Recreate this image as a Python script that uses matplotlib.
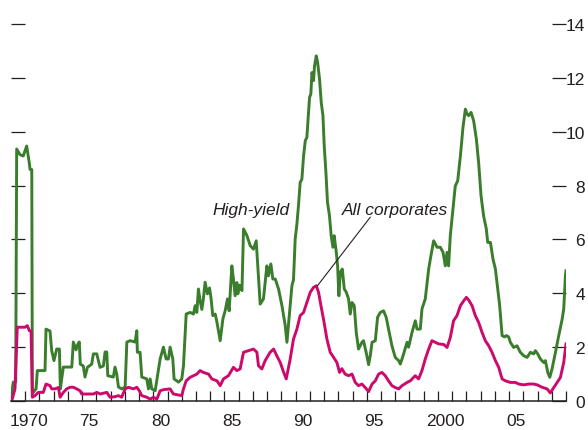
import matplotlib.pyplot as plt

plt.rcParams['font.family'] = ['Liberation Sans Narrow', 'Liberation Sans', 'DejaVu Sans']

# high-yield default rate (percent)
hy_years = [1970.00, 1970.16, 1970.33, 1970.40, 1970.63, 1970.86, 1971.10, 1971.27, 1971.34, 1971.46,
            1971.50, 1971.57, 1971.76, 1971.85, 1972.39, 1972.46, 1972.74, 1972.86, 1973.02, 1973.21,
            1973.40, 1973.47, 1973.56, 1973.68, 1974.27, 1974.38, 1974.57, 1974.69, 1974.80, 1974.87,
            1975.08, 1975.20, 1975.37, 1975.67, 1975.79, 1976.03, 1976.14, 1976.26, 1976.49, 1976.61,
            1976.73, 1976.80, 1977.19, 1977.31, 1977.43, 1977.55, 1977.78, 1978.02, 1978.14, 1978.37,
            1978.72, 1978.84, 1978.88, 1979.07, 1979.19, 1979.54, 1979.66, 1979.78, 1979.89, 1980.13,
            1980.48, 1980.71, 1980.90, 1981.06, 1981.18, 1981.37, 1981.46, 1981.77, 1982.00, 1982.12,
            1982.31, 1982.59, 1982.82, 1982.94, 1983.06, 1983.17, 1983.29, 1983.41, 1983.52, 1983.64,
            1983.80, 1983.95, 1984.06, 1984.18, 1984.35, 1984.47, 1984.70, 1984.89, 1985.05, 1985.21,
            1985.33, 1985.52, 1985.63, 1985.75, 1985.87, 1985.94, 1986.06, 1986.23, 1986.34, 1986.58,
            1986.81, 1987.04, 1987.23, 1987.32, 1987.51, 1987.74, 1987.98, 1988.09, 1988.26, 1988.40,
            1988.57, 1988.80, 1989.04, 1989.27, 1989.39, 1989.62, 1989.74, 1989.85, 1989.97, 1990.09,
            1990.20, 1990.32, 1990.44, 1990.56, 1990.68, 1990.79, 1990.98, 1991.07, 1991.15, 1991.26,
            1991.33, 1991.45, 1991.54, 1991.68, 1991.80, 1991.92, 1992.01, 1992.13, 1992.24, 1992.38,
            1992.50, 1992.62, 1992.71, 1992.86, 1992.95, 1993.04, 1993.14, 1993.28, 1993.42, 1993.56,
            1993.72, 1993.84, 1993.96, 1994.12, 1994.26, 1994.42, 1994.66, 1994.77, 1994.96, 1995.13,
            1995.25, 1995.37, 1995.60, 1995.76, 1995.95, 1996.18, 1996.37, 1996.53, 1996.77, 1997.00,
            1997.24, 1997.36, 1997.59, 1997.83, 1997.94, 1998.18, 1998.41, 1998.53, 1998.76, 1998.88,
            1999.11, 1999.35, 1999.51, 1999.70, 1999.94, 2000.17, 2000.36, 2000.52, 2000.64, 2000.75,
            2000.87, 2001.06, 2001.22, 2001.39, 2001.58, 2001.76, 2001.93, 2002.05, 2002.16, 2002.33,
            2002.51, 2002.70, 2002.86, 2003.03, 2003.21, 2003.40, 2003.50, 2003.69, 2003.87, 2004.04,
            2004.20, 2004.34, 2004.51, 2004.67, 2004.81, 2004.97, 2005.09, 2005.32, 2005.56, 2005.79,
            2006.03, 2006.27, 2006.50, 2006.73, 2006.85, 2007.01, 2007.20, 2007.43, 2007.55, 2007.72,
            2007.86, 2008.02, 2008.26, 2008.49, 2008.73, 2008.84, 2008.96, 2009.00]
hy_vals = [0.10, 0.70, 0.70, 9.36, 9.15, 9.10, 9.47, 8.90, 8.60, 8.60,
           0.33, 0.32, 0.45, 1.13, 1.13, 2.67, 2.60, 1.87, 1.50, 1.93,
           1.93, 0.45, 0.82, 1.26, 1.26, 2.19, 1.90, 2.10, 2.19, 1.37,
           1.30, 0.89, 1.25, 1.37, 1.75, 1.75, 1.50, 1.25, 1.30, 1.82,
           1.82, 0.94, 0.89, 1.26, 1.00, 0.52, 0.45, 0.52, 2.19, 2.24,
           2.19, 2.61, 1.81, 1.81, 0.89, 0.82, 0.45, 0.82, 0.45, 0.38,
           1.56, 2.00, 1.56, 1.56, 2.00, 1.56, 0.82, 0.70, 0.82, 1.31,
           3.23, 3.29, 3.23, 3.54, 3.29, 4.16, 3.73, 3.40, 3.80, 4.41,
           3.98, 4.20, 3.80, 3.17, 3.23, 2.93, 2.24, 3.05, 3.35, 3.79,
           3.35, 5.02, 4.53, 3.91, 4.40, 3.98, 4.30, 4.10, 6.39, 6.14,
           5.77, 5.64, 5.95, 5.21, 3.60, 3.79, 5.02, 4.65, 5.09, 4.53,
           4.53, 4.16, 3.54, 2.80, 2.18, 3.54, 4.28, 4.50, 6.02, 6.57,
           7.25, 8.12, 8.24, 9.11, 9.67, 9.79, 11.28, 11.40, 12.20, 11.90,
           12.45, 12.82, 12.60, 11.96, 11.09, 10.60, 9.48, 8.49, 7.38, 6.88,
           6.14, 5.71, 6.14, 5.52, 5.02, 3.91, 4.78, 4.90, 4.16, 4.04,
           3.79, 3.23, 3.66, 3.54, 2.55, 1.93, 2.18, 2.24, 1.80, 1.35,
           1.70, 2.18, 2.24, 3.11, 3.29, 3.35, 3.10, 2.67, 2.05, 1.62,
           1.50, 1.37, 1.75, 2.18, 2.00, 2.55, 2.98, 2.67, 2.67, 3.42,
           3.79, 4.90, 5.40, 5.95, 5.71, 5.71, 5.52, 5.02, 5.52, 5.02,
           6.14, 7.13, 7.99, 8.18, 9.11, 10.16, 10.84, 10.65, 10.60, 10.72,
           10.41, 9.73, 8.86, 7.62, 6.88, 6.39, 5.89, 5.89, 5.27, 4.90,
           4.16, 3.54, 2.43, 2.38, 2.43, 2.38, 2.18, 1.99, 2.05, 1.81,
           1.68, 1.62, 1.81, 1.75, 1.87, 1.75, 1.56, 1.43, 1.50, 1.06,
           0.88, 1.19, 1.81, 2.43, 3.04, 3.42, 4.65, 4.84]

# all corporates default rate (percent)
ac_years = [1970.00, 1970.05, 1970.28, 1970.44, 1970.70, 1970.98, 1971.15, 1971.29, 1971.41, 1971.50,
            1971.69, 1971.92, 1972.27, 1972.46, 1972.74, 1972.86, 1973.09, 1973.33, 1973.45, 1973.68,
            1973.92, 1974.15, 1974.38, 1974.62, 1974.85, 1974.97, 1975.32, 1975.79, 1976.03, 1976.26,
            1976.73, 1976.96, 1977.31, 1977.55, 1977.78, 1978.02, 1978.25, 1978.60, 1978.84, 1979.02,
            1979.19, 1979.54, 1979.78, 1980.01, 1980.25, 1980.48, 1980.71, 1981.18, 1981.41, 1982.00,
            1982.12, 1982.31, 1982.59, 1983.06, 1983.29, 1983.52, 1983.88, 1984.11, 1984.47, 1984.70,
            1984.93, 1985.28, 1985.63, 1985.87, 1986.10, 1986.34, 1986.69, 1987.04, 1987.28, 1987.39,
            1987.63, 1987.86, 1988.21, 1988.45, 1988.68, 1988.92, 1989.15, 1989.34, 1989.62, 1989.85,
            1990.09, 1990.32, 1990.56, 1990.79, 1991.03, 1991.26, 1991.45, 1991.61, 1991.78, 1991.96,
            1992.20, 1992.43, 1992.67, 1992.90, 1993.09, 1993.25, 1993.48, 1993.72, 1993.96, 1994.19,
            1994.42, 1994.66, 1994.89, 1995.13, 1995.37, 1995.60, 1995.83, 1996.07, 1996.30, 1996.53,
            1996.77, 1997.00, 1997.24, 1997.48, 1997.83, 1998.06, 1998.41, 1998.64, 1998.88, 1999.11,
            1999.35, 1999.58, 2000.05, 2000.40, 2000.64, 2000.87, 2001.10, 2001.34, 2001.58, 2001.81,
            2002.00, 2002.16, 2002.40, 2002.63, 2002.86, 2003.10, 2003.33, 2003.57, 2003.80, 2004.04,
            2004.27, 2004.51, 2004.74, 2005.09, 2005.44, 2005.68, 2006.03, 2006.38, 2006.73, 2006.97,
            2007.32, 2007.67, 2007.90, 2008.14, 2008.38, 2008.61, 2008.84, 2009.00]
ac_vals = [0.00, 0.00, 0.45, 2.74, 2.74, 2.74, 2.80, 2.61, 2.60, 0.14,
           0.20, 0.32, 0.32, 0.63, 0.57, 0.45, 0.45, 0.50, 0.14, 0.32,
           0.45, 0.51, 0.51, 0.45, 0.38, 0.26, 0.26, 0.26, 0.32, 0.26,
           0.32, 0.14, 0.16, 0.20, 0.14, 0.45, 0.51, 0.45, 0.51, 0.38,
           0.20, 0.14, 0.07, 0.14, 0.07, 0.38, 0.42, 0.45, 0.26, 0.20,
           0.45, 0.75, 0.88, 1.00, 1.13, 1.06, 1.00, 0.82, 0.75, 0.57,
           0.82, 0.94, 1.25, 1.13, 1.19, 1.81, 1.87, 1.93, 1.81, 1.31,
           1.19, 1.50, 1.81, 1.93, 1.68, 1.43, 1.08, 0.82, 1.56, 2.30,
           2.67, 3.17, 3.29, 3.66, 4.04, 4.22, 4.28, 4.04, 3.54, 3.04,
           2.30, 1.81, 1.62, 1.43, 1.06, 1.20, 1.00, 0.94, 1.00, 0.69,
           0.57, 0.63, 0.50, 0.35, 0.63, 0.75, 1.00, 1.06, 0.94, 0.75,
           0.57, 0.50, 0.45, 0.57, 0.69, 0.75, 0.94, 0.82, 1.13, 1.56,
           1.93, 2.24, 2.12, 2.10, 1.99, 2.36, 2.98, 3.17, 3.54, 3.72,
           3.85, 3.75, 3.54, 3.17, 2.92, 2.55, 2.24, 2.05, 1.81, 1.50,
           1.25, 0.82, 0.75, 0.69, 0.69, 0.63, 0.60, 0.63, 0.63, 0.60,
           0.51, 0.45, 0.30, 0.50, 0.69, 0.88, 1.43, 2.12]

year_labels = ['1970', '75', '80', '85', '90', '95', '2000', '05']
label_pos = [1971.25, 1975.5, 1980.5, 1985.5, 1990.5, 1995.5, 2000.5, 2005.5]
y_ticks = [0, 2, 4, 6, 8, 10, 12, 14]

GREEN = '#3a7d2c'
MAGENTA = '#cc0a6c'
DARK = '#231f20'
FS = 12.5

W, H = 588, 431
fig = plt.figure(figsize=(W / 100, H / 100), dpi=100)
ax = fig.add_axes([11 / W, 29 / H, 555 / W, 392 / H])

ax.plot(hy_years, hy_vals, color=GREEN, lw=2.1)
ax.plot(ac_years, ac_vals, color=MAGENTA, lw=2.1)

ax.set_xlim(1970, 2009)
ax.set_ylim(0, 14.56)

for side in ['top', 'left', 'right']:
    ax.spines[side].set_visible(False)
ax.spines['bottom'].set_color(DARK)
ax.spines['bottom'].set_linewidth(1.1)

# yearly tick marks, labels sit between them
ax.set_xticks(range(1970, 2010))
ax.set_xticklabels([])
ax.set_xticks(label_pos, labels=year_labels, minor=True)
ax.tick_params(axis='x', which='major', direction='in', length=7.2, width=0.9, color=DARK)
ax.tick_params(axis='x', which='minor', length=0, pad=9, labelsize=FS, labelcolor=DARK)

ax.set_yticks(y_ticks)
ax.tick_params(axis='y', direction='in', length=10, width=0.9, color=DARK,
               left=True, right=True, labelleft=False, labelright=True,
               labelsize=FS, labelcolor=DARK, pad=13.7)
for t in ax.yaxis.get_major_ticks():
    t.label2.set_horizontalalignment('right')

ax.text(1984.18, 6.94, 'High-yield', fontsize=FS, style='italic', color=DARK, va='baseline')
ax.text(1993.28, 6.94, 'All corporates', fontsize=FS, style='italic', color=DARK, va='baseline')
ax.annotate('', xy=(1991.52, 4.27), xytext=(1995.25, 6.83),
            arrowprops=dict(arrowstyle='-', lw=0.8, color=DARK, shrinkA=0, shrinkB=0))

fig.savefig('out.png', dpi=100)
